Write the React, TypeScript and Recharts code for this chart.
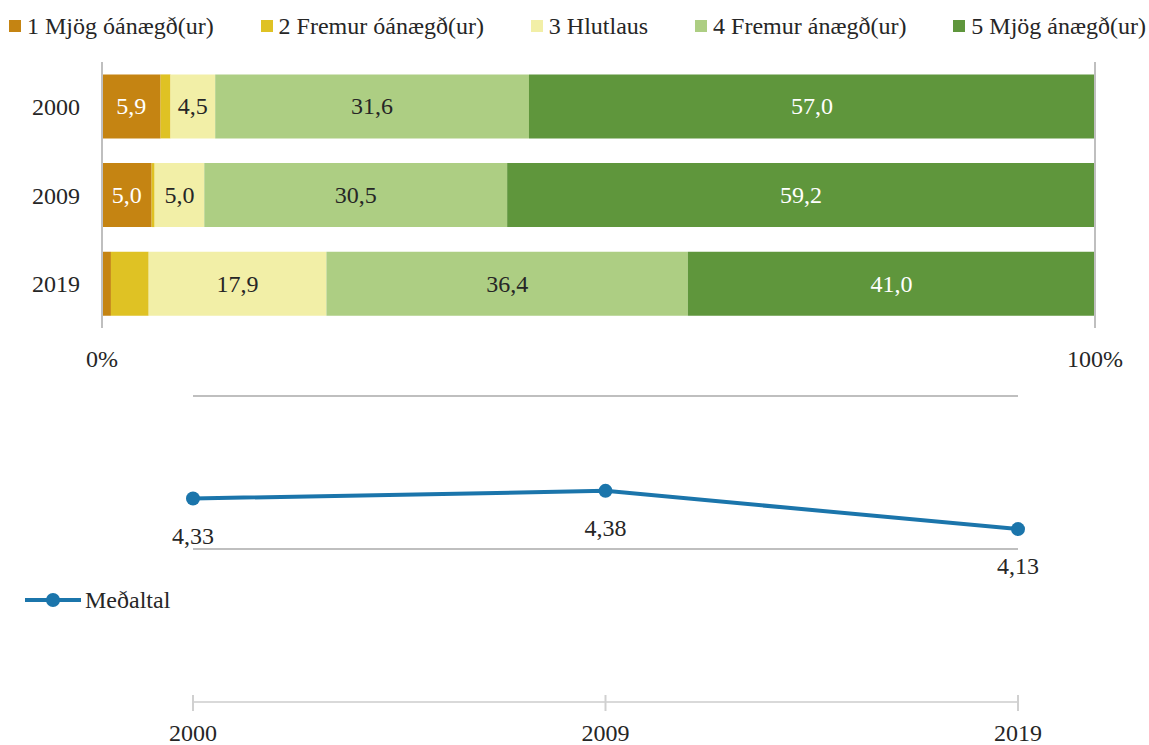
import React from 'react';
import {
  BarChart,
  Bar,
  XAxis,
  YAxis,
  LabelList,
  Legend,
  ReferenceLine,
  LineChart,
  Line,
  CartesianGrid,
} from 'recharts';

const years = ['2000', '2009', '2019'];
const series1 = [5.9, 5.0, 0.9];
const series2 = [1.0, 0.3, 3.8];
const series3 = [4.5, 5.0, 17.9];
const series4 = [31.6, 30.5, 36.4];
const series5 = [57.0, 59.2, 41.0];
const seriesNames = [
  '1 Mjög óánægð(ur)',
  '2 Fremur óánægð(ur)',
  '3 Hlutlaus',
  '4 Fremur ánægð(ur)',
  '5 Mjög ánægð(ur)',
];
const pctTicks = [0, 100];

const meanYears = ['2000', '2009', '2019'];
const meanValues = [4.33, 4.38, 4.13];
const meanTicks = [3, 4, 5];
const meanName = 'Meðaltal';

const FONT = "'Liberation Serif', 'DejaVu Serif', serif";
const TEXT = '#262626';
const GRID = '#BFBFBF';
const colors = ['#C58412', '#DFC224', '#F2EFA7', '#ADCE83', '#5F963C'];
const labelColors = ['#FFFFFF', TEXT, TEXT, TEXT, '#FFFFFF'];
const LINE = '#1B75AB';

const barData = years.map((y, i) => ({
  year: y,
  s1: series1[i],
  s2: series2[i],
  s3: series3[i],
  s4: series4[i],
  s5: series5[i],
}));
const keys = ['s1', 's2', 's3', 's4', 's5'];

const lineData = meanYears.map((y, i) => ({ year: y, mean: meanValues[i] }));

const fmt1 = (v: number) => v.toFixed(1).replace('.', ',');
const fmt2 = (v: number) => v.toFixed(2).replace('.', ',');

const makeLabel = (color: string) => (props: any) => {
  const { x, y, width, height, value } = props;
  if (value == null || value < 4.5) return null;
  return (
    <text
      x={Number(x) + Number(width) / 2}
      y={Number(y) + Number(height) / 2}
      textAnchor="middle"
      dominantBaseline="central"
      fill={color}
      style={{ fontFamily: FONT, fontSize: 24 }}
    >
      {fmt1(value)}
    </text>
  );
};

const TopLegend = () => (
  <div
    style={{
      display: 'flex',
      justifyContent: 'space-between',
      alignItems: 'center',
      height: 40,
      fontFamily: FONT,
      fontSize: 24,
      color: TEXT,
      whiteSpace: 'nowrap',
    }}
  >
    {seriesNames.map((n, i) => (
      <div key={n} style={{ display: 'flex', alignItems: 'center' }}>
        <span
          style={{
            display: 'inline-block',
            width: 12,
            height: 12,
            background: colors[i],
            marginRight: 6,
          }}
        />
        <span style={{ fontFamily: FONT }}>{n}</span>
      </div>
    ))}
  </div>
);

const MeanLegend = () => (
  <div
    style={{
      display: 'flex',
      alignItems: 'center',
      width: 170,
      height: 40,
      fontFamily: FONT,
      fontSize: 24,
      color: TEXT,
      whiteSpace: 'nowrap',
    }}
  >
    <svg width={56} height={20} style={{ marginRight: 4, marginLeft: 2 }}>
      <line x1={0} y1={10} x2={56} y2={10} stroke={LINE} strokeWidth={4} />
      <circle cx={28} cy={10} r={7} fill={LINE} />
    </svg>
    <span style={{ fontFamily: FONT }}>{meanName}</span>
  </div>
);

const YearTick = (props: any) => {
  const { x, y, payload } = props;
  return (
    <g>
      <line x1={x} y1={y - 15} x2={x} y2={y + 1} stroke="#D0D0D0" strokeWidth={2} />
      <text
        x={x}
        y={y + 23}
        textAnchor="middle"
        dominantBaseline="central"
        fill={TEXT}
        style={{ fontFamily: FONT, fontSize: 24 }}
      >
        {payload.value}
      </text>
    </g>
  );
};

const MeanLabel = (props: any) => {
  const { x, y, value } = props;
  return (
    <text
      x={x}
      y={Number(y) + 37}
      textAnchor="middle"
      dominantBaseline="central"
      fill={TEXT}
      style={{ fontFamily: FONT, fontSize: 24 }}
    >
      {fmt2(value)}
    </text>
  );
};

const tickStyle = { fill: TEXT, fontSize: 24, fontFamily: FONT };

export default function App() {
  return (
    <div
      style={{
        position: 'absolute',
        left: 0,
        top: 0,
        width: 1149,
        height: 745,
        background: '#FFFFFF',
        fontFamily: FONT,
      }}
    >
      <div style={{ position: 'absolute', left: 0, top: 0 }}>
        <BarChart
          width={1149}
          height={380}
          data={barData}
          layout="vertical"
          margin={{ top: 22, right: 54, bottom: 12, left: 12 }}
          barCategoryGap="14%"
          style={{ fontFamily: FONT }}
        >
          <XAxis
            type="number"
            domain={[0, 100]}
            ticks={pctTicks}
            tickFormatter={(v: number) => `${v}%`}
            axisLine={false}
            tickLine={false}
            tickMargin={16}
            height={40}
            tick={tickStyle}
          />
          <YAxis
            type="category"
            dataKey="year"
            width={90}
            axisLine={{ stroke: GRID, strokeWidth: 2 }}
            tickLine={false}
            tickMargin={16}
            tick={tickStyle}
          />
          <Legend
            verticalAlign="top"
            align="left"
            content={() => <TopLegend />}
            wrapperStyle={{ top: 6, left: 9, width: 1137 }}
          />
          {keys.map((k, i) => (
            <Bar
              key={k}
              dataKey={k}
              name={seriesNames[i]}
              stackId="a"
              fill={colors[i]}
              isAnimationActive={false}
            >
              <LabelList dataKey={k} content={makeLabel(labelColors[i])} />
            </Bar>
          ))}
          <ReferenceLine x={100} stroke={GRID} strokeWidth={2} ifOverflow="extendDomain" />
        </BarChart>
      </div>
      <div style={{ position: 'absolute', left: 0, top: 380 }}>
        <LineChart
          width={1149}
          height={365}
          data={lineData}
          margin={{ top: 16, right: 131, bottom: 13, left: 23 }}
          style={{ fontFamily: FONT }}
        >
          <CartesianGrid horizontal vertical={false} stroke={GRID} strokeWidth={2} />
          <XAxis
            dataKey="year"
            axisLine={{ stroke: '#D9D9D9', strokeWidth: 2 }}
            tickLine={false}
            height={30}
            tick={<YearTick />}
            interval={0}
          />
          <YAxis hide domain={[3, 5]} ticks={meanTicks} />
          <Legend
            layout="vertical"
            align="left"
            verticalAlign="middle"
            content={() => <MeanLegend />}
            wrapperStyle={{ top: 200 }}
          />
          <Line
            type="linear"
            dataKey="mean"
            name={meanName}
            stroke={LINE}
            strokeWidth={4}
            dot={{ r: 7, fill: LINE, stroke: LINE, strokeWidth: 0 }}
            activeDot={false}
            isAnimationActive={false}
          >
            <LabelList dataKey="mean" content={<MeanLabel />} />
          </Line>
        </LineChart>
      </div>
    </div>
  );
}
